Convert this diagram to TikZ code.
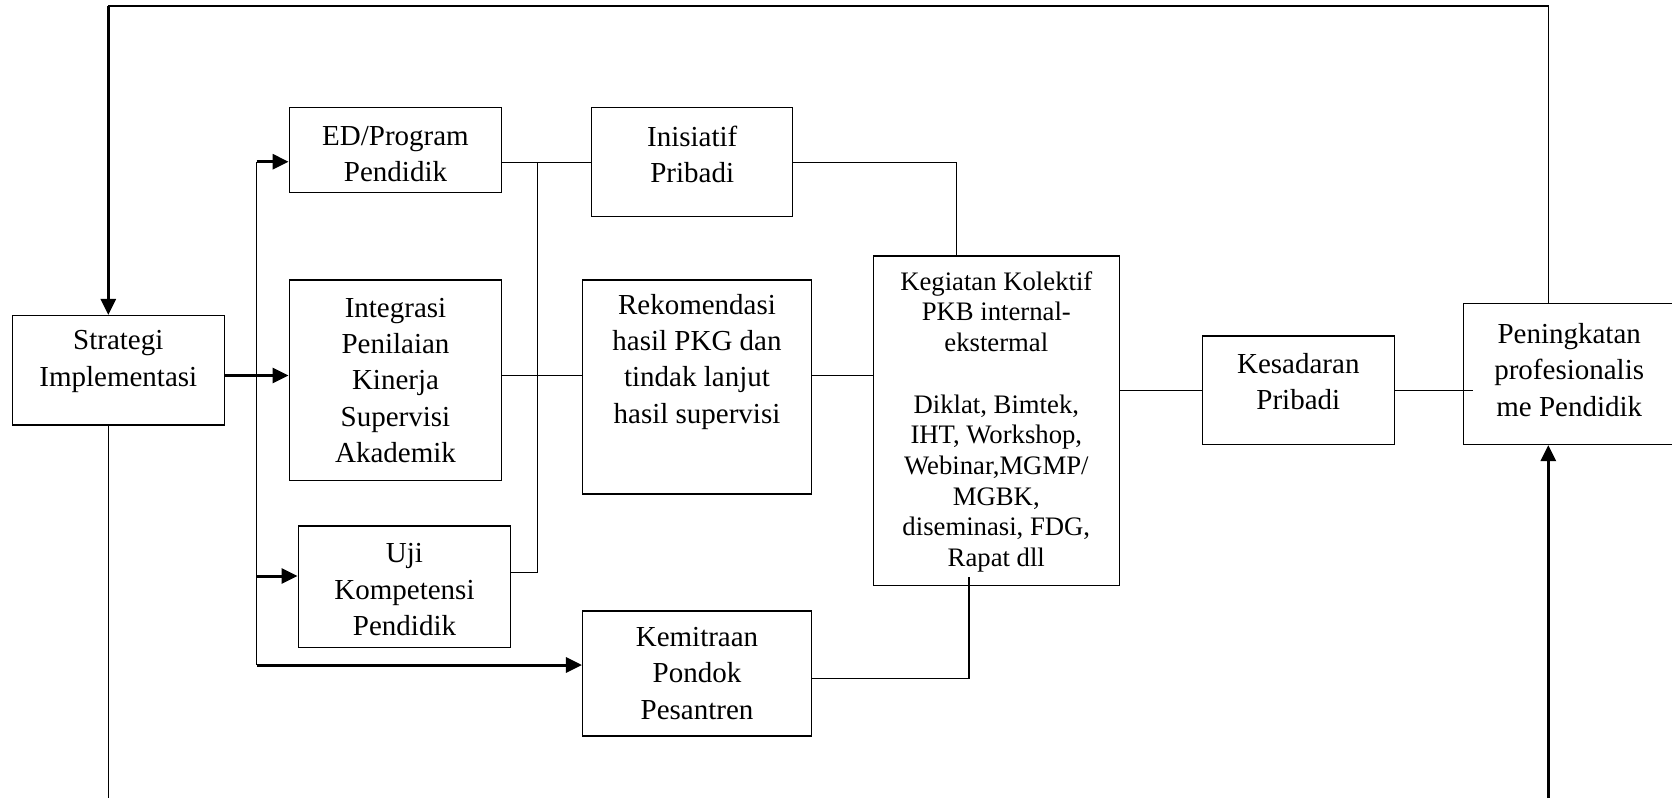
\documentclass[tikz,border=0pt]{standalone}
\usepackage{fontspec}
\setmainfont{Liberation Serif}
\usetikzlibrary{arrows.meta,calc}
\newcommand\boxfont{\fontsize{29}{36.3}\selectfont}
\newcommand\listfont{\fontsize{26.7}{30.7}\selectfont}

\begin{document}
\begin{tikzpicture}[x=1pt,y=-1pt,
  frame/.style={draw=black, line width=1.5pt, inner sep=0pt, rectangle},
  txt/.style={align=center, inner sep=0pt, font=\boxfont},
  link/.style={line width=1.3pt},
  flow/.style={line width=3pt, -{Triangle[length=16pt,width=15pt]}}
]
\useasboundingbox (0,0) rectangle (1672,798);
\fill[white] (0,0) rectangle (1672,798);
\clip (0,0) rectangle (1672,798);

% boxes
\node[frame, minimum width=212pt,   minimum height=109.3pt] (strat) at (118.3,370.35) {};
\node[frame, minimum width=212.4pt, minimum height=84.6pt]  (ed)    at (395.5,150) {};
\node[frame, minimum width=212.4pt, minimum height=200.7pt] (integ) at (395.5,380.35) {};
\node[frame, minimum width=212.4pt, minimum height=121.3pt] (uji)   at (404.5,586.65) {};
\node[frame, minimum width=201pt,   minimum height=109pt]   (inis)  at (692.2,162.2) {};
\node[frame, minimum width=228.6pt, minimum height=214pt]   (rekom) at (697,387) {};
\node[frame, minimum width=228.6pt, minimum height=125pt]   (kemit) at (697,673.5) {};
\node[frame, minimum width=246pt,   minimum height=329.7pt] (keg)   at (996.3,420.85) {};
\node[frame, minimum width=192pt,   minimum height=108.3pt] (kes)   at (1298.3,390.15) {};
\node[frame, minimum width=211.7pt, minimum height=141pt]   (pen)   at (1569.2,373.8) {};

% box texts
\node[txt] (strat-t) at ([yshift=8.85pt]strat.center) {Strategi\\Implementasi};
\node[txt] (ed-t)    at ([yshift=-4pt]ed.center) {ED/Program\\Pendidik};
\node[txt] (integ-t) at (integ.center) {Integrasi\\Penilaian\\Kinerja\\Supervisi\\Akademik};
\node[txt] (uji-t)   at ([yshift=-3pt]uji.center) {Uji\\Kompetensi\\Pendidik};
\node[txt] (inis-t)  at ([yshift=8pt]inis.center) {Inisiatif\\Pribadi};
\node[txt] (rekom-t) at ([yshift=25.3pt]rekom.center) {Rekomendasi\\hasil PKG dan\\tindak lanjut\\hasil supervisi};
\node[txt] (kemit-t) at (kemit.center) {Kemitraan\\Pondok\\Pesantren};
\node[txt, font=\listfont] (keg-t) at ([yshift=-1pt]keg.center)
  {Kegiatan Kolektif\\PKB internal-\\ekstermal\\[30.7pt]Diklat, Bimtek,\\IHT, Workshop,\\Webinar,MGMP/\\MGBK,\\diseminasi, FDG,\\Rapat dll};
\node[txt] (kes-t)   at ([yshift=8.5pt]kes.center) {Kesadaran\\Pribadi};
\node[txt] (pen-t)   at ([yshift=4pt]pen.center) {Peningkatan\\profesionalis\\me Pendidik};

% route points
\coordinate (loopL) at (108.3,6);
\coordinate (loopR) at (1548.3,6);
\coordinate (baseL) at (108.3,798);
\coordinate (baseR) at (1548.3,798);
\coordinate (busA)  at (256.7,161.7);
\coordinate (busB)  at (256.7,665);
\coordinate (busC)  at (537.7,162.2);

% feedback loop and outer lines
\draw[link] (pen.north -| loopR) -- (loopR) -- (loopL);
\draw[flow] (loopL) -- (strat.north -| loopL);
\draw[link] (strat.south -| baseL) -- (baseL);
\draw[flow] (baseR) -- (pen.south -| baseR);

% distribution from Strategi
\draw[link] (busA) -- (busB);
\draw[flow] (busA) -- (busA -| ed.west);
\path ([yshift=10.65pt]uji.west) coordinate (ujiIn);
\draw[flow] (ujiIn -| busA) -- (ujiIn);
\draw[flow] (busB) -- (busB -| kemit.west);
\path ([yshift=-5.15pt]strat.east) coordinate (sOut);
\draw[flow] (sOut) -- (sOut -| integ.west);

% middle connections
\draw[link] (ed.east |- inis.west) -- (inis.west);
\draw[link] ([yshift=13.95pt]uji.east) -| (busC);
\path ([yshift=4.65pt]integ.east) coordinate (iOut);
\draw[link] (iOut) -- (iOut -| rekom.west);
\draw[link] (iOut -| rekom.east) -- (iOut -| keg.west);
\draw[link] (inis.east) -| ([xshift=-39.6pt]keg.north);
\draw[link] ([yshift=-4.7pt]kemit.east) -| ([xshift=-27.3pt,yshift=9pt]keg.south);
\draw[link] (keg.east |- kes.west) -- (kes.west);
\path (kes.east -| pen.west) coordinate (penIn);
\draw[link] (kes.east) -- ([xshift=10.7pt]penIn);
\end{tikzpicture}
\end{document}
